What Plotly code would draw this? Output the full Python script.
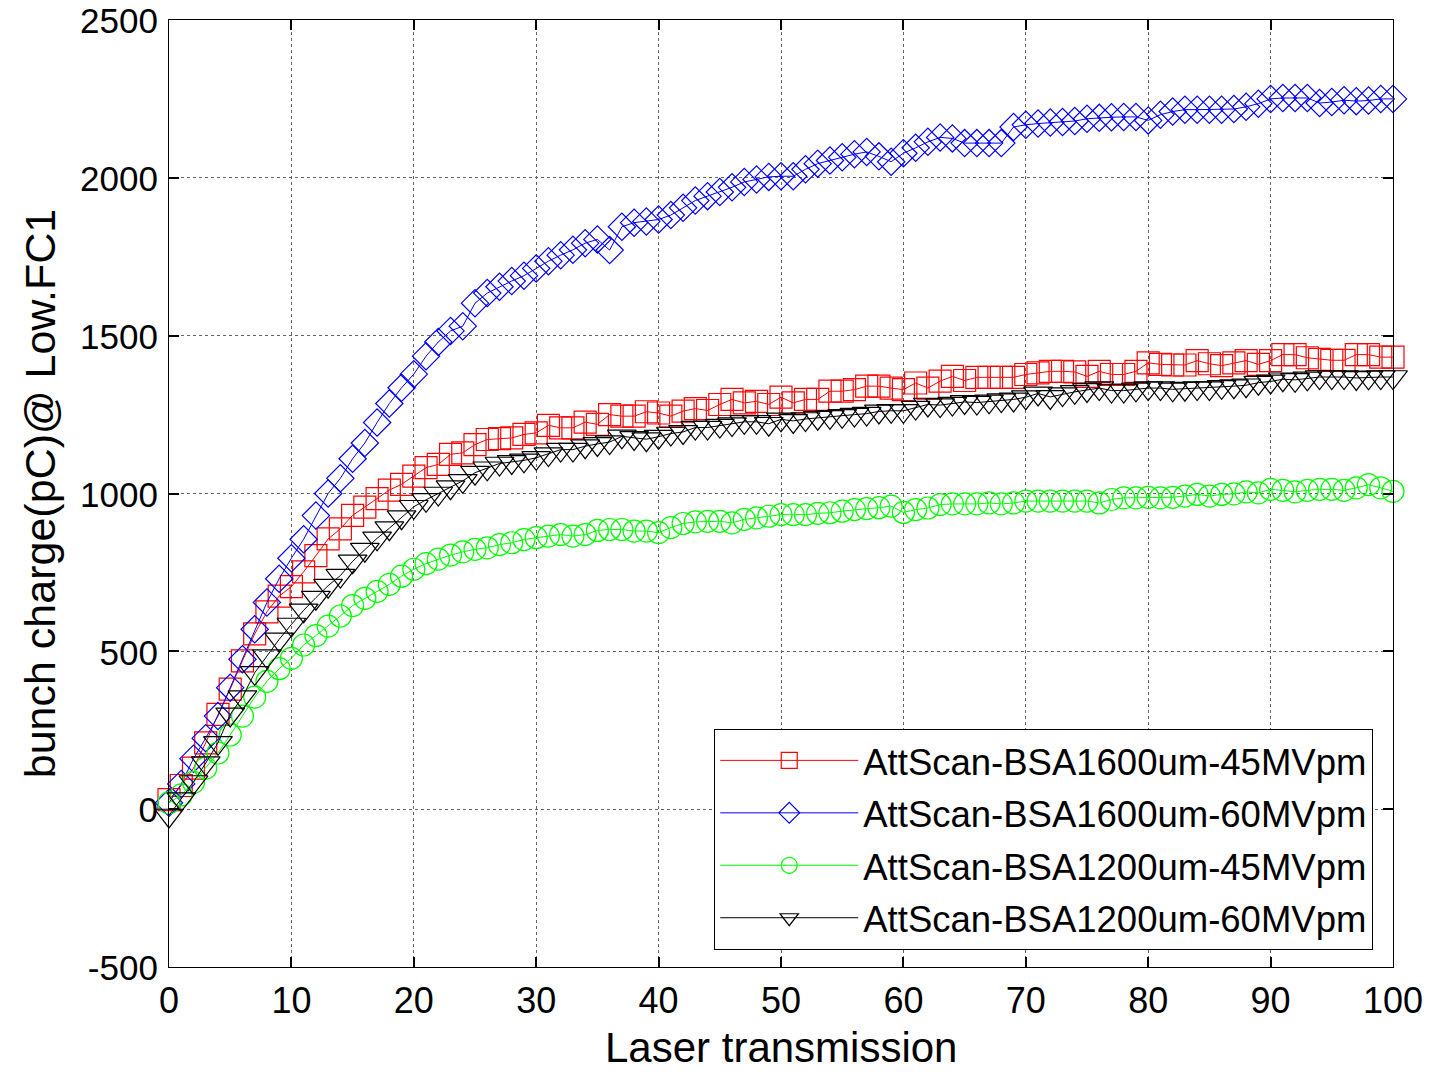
import plotly.graph_objects as go

x_vals = list(range(0, 101))

names = ["AttScan-BSA1600um-45MVpm", "AttScan-BSA1600um-60MVpm",
         "AttScan-BSA1200um-45MVpm", "AttScan-BSA1200um-60MVpm"]

red_1600_45 = [30, 75, 130, 210, 300, 380, 470, 555, 625, 675,
               705, 752, 803, 856, 888, 931, 957, 984, 1011, 1029,
               1055, 1082, 1092, 1124, 1129, 1155, 1171, 1174, 1176, 1187,
               1192, 1216, 1208, 1208, 1226, 1219, 1250, 1245, 1245, 1259,
               1255, 1245, 1261, 1269, 1263, 1282, 1298, 1287, 1292, 1282,
               1305, 1287, 1298, 1298, 1324, 1324, 1329, 1340, 1340, 1334,
               1329, 1350, 1334, 1356, 1371, 1358, 1368, 1368, 1368, 1368,
               1377, 1382, 1387, 1387, 1385, 1371, 1387, 1377, 1377, 1387,
               1414, 1409, 1407, 1407, 1421, 1411, 1405, 1414, 1421, 1409,
               1421, 1440, 1440, 1430, 1425, 1422, 1422, 1440, 1440, 1432,
               1432]

blue_1600_60 = [20, 80, 160, 225, 295, 385, 475, 570, 655, 730,
                795, 855, 930, 1000, 1048, 1110, 1160, 1225, 1285, 1335,
                1378, 1435, 1480, 1515, 1530, 1603, 1635, 1655, 1673, 1690,
                1713, 1736, 1755, 1772, 1793, 1805, 1771, 1845, 1858, 1862,
                1868, 1882, 1905, 1928, 1942, 1955, 1970, 1987, 1995, 2003,
                2005, 2005, 2027, 2045, 2055, 2065, 2075, 2082, 2068, 2051,
                2078, 2095, 2114, 2128, 2125, 2110, 2110, 2110, 2110, 2161,
                2168, 2172, 2175, 2177, 2180, 2187, 2190, 2192, 2193, 2193,
                2182, 2200, 2210, 2216, 2216, 2216, 2216, 2218, 2225, 2235,
                2250, 2253, 2253, 2253, 2237, 2240, 2246, 2243, 2245, 2250,
                2250]

green_1200_45 = [20, 45, 85, 130, 178, 235, 295, 355, 405, 445,
                 478, 520, 550, 580, 612, 645, 668, 690, 712, 738,
                 760, 778, 792, 805, 815, 823, 828, 838, 844, 854,
                 860, 865, 870, 865, 870, 883, 886, 886, 881, 881,
                 876, 892, 905, 910, 912, 912, 907, 918, 923, 928,
                 933, 933, 933, 937, 939, 944, 949, 952, 955, 960,
                 940, 949, 954, 965, 967, 967, 967, 970, 967, 970,
                 976, 976, 976, 976, 976, 976, 970, 981, 986, 986,
                 988, 986, 988, 992, 997, 992, 997, 999, 1005, 1002,
                 1013, 1010, 1005, 1010, 1013, 1013, 1010, 1018, 1028, 1018,
                 1007]

black_1200_60 = [-20, 32, 86, 146, 210, 300, 355, 432, 485, 538,
                 585, 630, 670, 708, 740, 785, 822, 858, 890, 925,
                 958, 980, 1000, 1020, 1040, 1066, 1080, 1095, 1100, 1105,
                 1113, 1125, 1139, 1139, 1150, 1157, 1163, 1181, 1176, 1172,
                 1180, 1190, 1195, 1209, 1209, 1215, 1220, 1227, 1227, 1221,
                 1235, 1230, 1236, 1240, 1243, 1246, 1250, 1253, 1260, 1262,
                 1262, 1272, 1282, 1280, 1285, 1290, 1288, 1292, 1296, 1298,
                 1305, 1317, 1306, 1315, 1322, 1328, 1334, 1326, 1326, 1330,
                 1334, 1334, 1330, 1332, 1334, 1334, 1338, 1340, 1343, 1351,
                 1355, 1362, 1360, 1365, 1369, 1369, 1369, 1366, 1368, 1369,
                 1369]

x_ticks = [0, 10, 20, 30, 40, 50, 60, 70, 80, 90, 100]
y_ticks = [-500, 0, 500, 1000, 1500, 2000, 2500]

series = [
    (names[0], red_1600_45, "#FF0000", "square-open", 22),
    (names[1], blue_1600_60, "#0000FF", "diamond-open", 21),
    (names[2], green_1200_45, "#00FF00", "circle-open", 22),
    (names[3], black_1200_60, "#000000", "triangle-down-open", 25),
]

FONT = "Liberation Sans, Arial, sans-serif"

fig = go.Figure()
for i, (nm, ys, col, sym, sz) in enumerate(series):
    fig.add_trace(go.Scatter(
        x=x_vals, y=ys, name=nm, mode="lines+markers",
        line=dict(color=col, width=1),
        marker=dict(symbol=sym, size=sz, color=col, line=dict(color=col, width=1.2)),
        cliponaxis=False, legendgroup=f"g{i}",
    ))

axis_common = dict(
    showline=True, linecolor="black", linewidth=1.2, mirror="ticks",
    ticks="inside", ticklen=10, tickcolor="black", tickwidth=1.5,
    showgrid=True, gridcolor="rgb(100,100,100)", griddash="dot", gridwidth=1,
    zeroline=False, automargin=False, ticklabeloverflow="allow",
)

fig.update_xaxes(range=[0, 100], tickvals=x_ticks, ticktext=[str(v) for v in x_ticks],
                 tickfont=dict(family=FONT, size=36, color="black"),
                 ticklabelstandoff=2, **axis_common)
fig.update_yaxes(range=[-500, 2500], tickvals=y_ticks, ticktext=[str(v) for v in y_ticks],
                 tickfont=dict(family=FONT, size=35, color="black"),
                 title=dict(text="bunch charge(pC)@ Low.FC1", font=dict(family=FONT, size=43, color="black"), standoff=10),
                 ticklabelstandoff=3, ticklabelshift=1, **axis_common)

fig.add_annotation(
    text="Laser transmission", xref="paper", yref="paper",
    x=0.5, y=-0.0845, xanchor="center", yanchor="middle", showarrow=False,
    font=dict(family=FONT, size=42, color="black"),
)

fig.update_layout(
    width=1430, height=1075,
    margin=dict(l=169, r=37, t=20, b=108),
    paper_bgcolor="white", plot_bgcolor="white",
    showlegend=True,
    legend=dict(
        x=0.9837, y=0.018, xanchor="right", yanchor="bottom",
        bgcolor="white", bordercolor="black", borderwidth=1.2,
        font=dict(family=FONT, size=36.5, color="black"),
        traceorder="grouped", tracegroupgap=2, itemwidth=138,
    ),
)

# remove the browser's default 8px page margin so the figure fills the window exactly
fig.write_html("out.html", config={"displayModeBar": False},
               post_script="document.body.style.margin='0px';")
